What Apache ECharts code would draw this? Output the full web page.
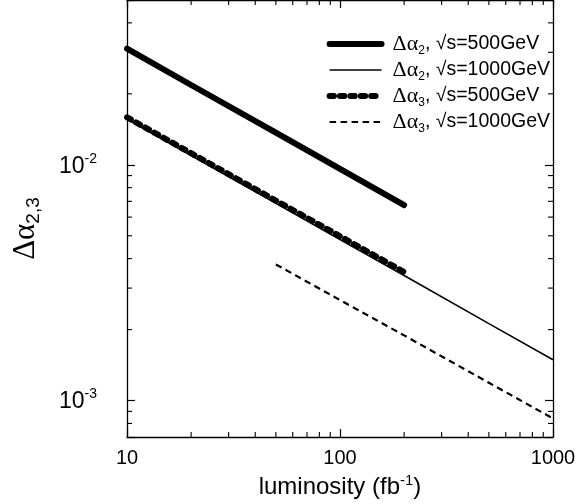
<!DOCTYPE html>
<html>
<head>
<meta charset="utf-8">
<script src="https://cdn.jsdelivr.net/npm/echarts@6/dist/echarts.min.js"></script>
<style>
html,body{margin:0;padding:0;background:#fff;}
#c{width:579px;height:504px;}
</style>
</head>
<body>
<div id="c"></div>
<script>
// ---- data ----
const xRange = [10, 1000];
const yRange = [0.0007, 0.05];

const lumA = [10, 20, 50, 100, 200];
const d2_500 = [0.0311, 0.0218, 0.0137, 0.0096, 0.00675];
const d3_500 = [0.0159, 0.0112, 0.00705, 0.00498, 0.00351];

const lumB = [10, 20, 50, 100, 200, 500, 1000];
const d2_1000 = [0.0156, 0.01095, 0.00686, 0.00482, 0.00339, 0.00212, 0.00149];

const lumC = [50, 100, 200, 500, 1000];
const d3_1000 = [0.00378, 0.00267, 0.00189, 0.00119, 0.00084];

const seriesNames = ['a2_500', 'a2_1000', 'a3_500', 'a3_1000'];
const legendSub = ['2', '2', '3', '3'];
const legendEnergy = ['500GeV', '1000GeV', '500GeV', '1000GeV'];

const xMinorTicks = [20, 30, 40, 50, 60, 70, 80, 90, 200, 300, 400, 500, 600, 700, 800, 900];
const yMinorTicks = [0.0008, 0.0009, 0.002, 0.003, 0.004, 0.005, 0.006, 0.007, 0.008, 0.009, 0.02, 0.03, 0.04];

const xTitle = 'luminosity (fb';
const xTitleSup = '-1';
const yTitle = 'Δα';
const yTitleSub = '2,3';

function pairs(xs, ys) { return xs.map((x, i) => [x, ys[i]]); }

const FONT = 'Liberation Sans, Arial, sans-serif';
const GREEK = 'Liberation Serif, Times New Roman, serif';

// line styles (shared by series and legend icons)
const styles = [
  {color: '#000', width: 6, cap: 'round'},
  {color: '#000', width: 1.6},
  {color: '#000', width: 6, type: [4.4, 6], cap: 'round'},
  {color: '#000', width: 2.2, type: [6.5, 4.5]}
];

const chart = echarts.init(document.getElementById('c'), null, {renderer: 'canvas'});

function powLabel(v) {
  const e = Math.log10(v);
  const r = Math.round(e);
  if (Math.abs(e - r) > 1e-6) return '';
  return '{b|10}{s|' + r + '}';
}
function xLabel(v) {
  const e = Math.log10(v);
  const r = Math.round(e);
  if (Math.abs(e - r) > 1e-6) return '';
  return String(Math.round(v));
}

const axisLineStyle = {color: '#000', width: 1.3};

const option = {
  animation: false,
  backgroundColor: '#fff',
  grid: {left: 127, right: 26, top: -2, bottom: 64, containLabel: false},
  legend: {
    data: seriesNames.map((n, i) => ({name: n, lineStyle: styles[i], itemStyle: {opacity: 0}})),
    orient: 'vertical',
    right: 24,
    top: 28,
    itemWidth: 52,
    itemHeight: 14,
    itemGap: 2,
    align: 'left',
    selectedMode: false,
    itemStyle: {opacity: 0},
    formatter: function (name) {
      const i = seriesNames.indexOf(name);
      return '{g|Δα}{s|' + legendSub[i] + '}{t|, √s=' + legendEnergy[i] + '}';
    },
    textStyle: {
      color: '#000',
      fontFamily: FONT,
      fontSize: 19.5,
      rich: {
        g: {fontFamily: GREEK, fontSize: 22, color: '#000', lineHeight: 22, verticalAlign: 'middle', padding: [0, 0, 0, 6]},
        s: {fontFamily: FONT, fontSize: 12, color: '#000', lineHeight: 22, verticalAlign: 'bottom', padding: [0, 0, -2, 0]},
        t: {fontFamily: FONT, fontSize: 19.5, color: '#000', lineHeight: 22, verticalAlign: 'middle'}
      }
    }
  },
  xAxis: [{
    type: 'log',
    min: xRange[0], max: xRange[1],
    position: 'bottom',
    axisLine: {show: true, onZero: false, lineStyle: axisLineStyle},
    axisTick: {show: true, inside: true, length: 8, lineStyle: {color: '#000', width: 1.2}},
    splitLine: {show: false},
    axisLabel: {
      show: true, margin: 11, color: '#000', fontFamily: FONT, fontSize: 20,
      formatter: xLabel, showMinLabel: true, showMaxLabel: true
    },
    name: '{t|' + xTitle + '}{s|' + xTitleSup + '}{t|)}',
    nameLocation: 'middle',
    nameGap: 32,
    nameTextStyle: {
      rich: {
        t: {fontFamily: FONT, fontSize: 24, color: '#000', lineHeight: 28, verticalAlign: 'middle'},
        s: {fontFamily: FONT, fontSize: 15, color: '#000', lineHeight: 28, verticalAlign: 'top'}
      }
    }
  }, {
    type: 'log',
    min: xRange[0], max: xRange[1],
    position: 'top',
    axisLine: {show: true, onZero: false, lineStyle: axisLineStyle},
    axisTick: {show: true, inside: true, length: 8, lineStyle: {color: '#000', width: 1.2}},
    axisLabel: {show: false},
    splitLine: {show: false}
  }],
  yAxis: [{
    type: 'log',
    min: yRange[0], max: yRange[1],
    position: 'left',
    axisLine: {show: true, onZero: false, lineStyle: axisLineStyle},
    axisTick: {show: true, inside: true, length: 8, lineStyle: {color: '#000', width: 1.2}},
    splitLine: {show: false},
    axisLabel: {
      show: true, margin: 30, color: '#000',
      formatter: powLabel,
      rich: {
        b: {fontFamily: FONT, fontSize: 23, color: '#000', lineHeight: 26, verticalAlign: 'bottom'},
        s: {fontFamily: FONT, fontSize: 14, color: '#000', lineHeight: 26, verticalAlign: 'top'}
      }
    },
    name: '{g|' + yTitle + '}{s|' + yTitleSub + '}',
    nameLocation: 'middle',
    nameRotate: 90,
    nameGap: 84,
    nameTextStyle: {
      padding: [0, 20, 0, 0],
      rich: {
        g: {fontFamily: GREEK, fontSize: 31, color: '#000', lineHeight: 34, verticalAlign: 'middle'},
        s: {fontFamily: FONT, fontSize: 19, color: '#000', lineHeight: 34, verticalAlign: 'bottom'}
      }
    }
  }, {
    type: 'log',
    min: yRange[0], max: yRange[1],
    position: 'right',
    axisLine: {show: true, onZero: false, lineStyle: axisLineStyle},
    axisTick: {show: true, inside: true, length: 8, lineStyle: {color: '#000', width: 1.2}},
    axisLabel: {show: false},
    splitLine: {show: false}
  }],
  series: [
    {
      name: seriesNames[0], type: 'line', data: pairs(lumA, d2_500),
      symbol: 'none', lineStyle: styles[0], itemStyle: {color: '#000'}
    },
    {
      name: seriesNames[1], type: 'line', data: pairs(lumB, d2_1000),
      symbol: 'none', lineStyle: styles[1], itemStyle: {color: '#000'}
    },
    {
      name: seriesNames[2], type: 'line', data: pairs(lumA, d3_500),
      symbol: 'none', lineStyle: styles[2], itemStyle: {color: '#000'}
    },
    {
      name: seriesNames[3], type: 'line', data: pairs(lumC, d3_1000),
      symbol: 'none', lineStyle: styles[3], itemStyle: {color: '#000'}
    },
    {
      name: 'xminor', type: 'custom', silent: true, xAxisIndex: 0, yAxisIndex: 0,
      data: xMinorTicks.map(v => [v, yRange[0]]),
      renderItem: function (params, api) {
        const v = api.value(0);
        const p = api.coord([v, yRange[0]]);
        const q = api.coord([v, yRange[1]]);
        const st = {stroke: '#000', lineWidth: 1.1};
        return {type: 'group', children: [
          {type: 'line', shape: {x1: p[0], y1: p[1], x2: p[0], y2: p[1] - 5}, style: st},
          {type: 'line', shape: {x1: q[0], y1: q[1], x2: q[0], y2: q[1] + 5}, style: st}
        ]};
      }
    },
    {
      name: 'yminor', type: 'custom', silent: true, xAxisIndex: 0, yAxisIndex: 0,
      data: yMinorTicks.map(v => [xRange[0], v]),
      renderItem: function (params, api) {
        const v = api.value(1);
        const p = api.coord([xRange[0], v]);
        const q = api.coord([xRange[1], v]);
        const st = {stroke: '#000', lineWidth: 1.1};
        return {type: 'group', children: [
          {type: 'line', shape: {x1: p[0], y1: p[1], x2: p[0] + 5, y2: p[1]}, style: st},
          {type: 'line', shape: {x1: q[0], y1: q[1], x2: q[0] - 5, y2: q[1]}, style: st}
        ]};
      }
    }
  ]
};
chart.setOption(option);
</script>
</body>
</html>
